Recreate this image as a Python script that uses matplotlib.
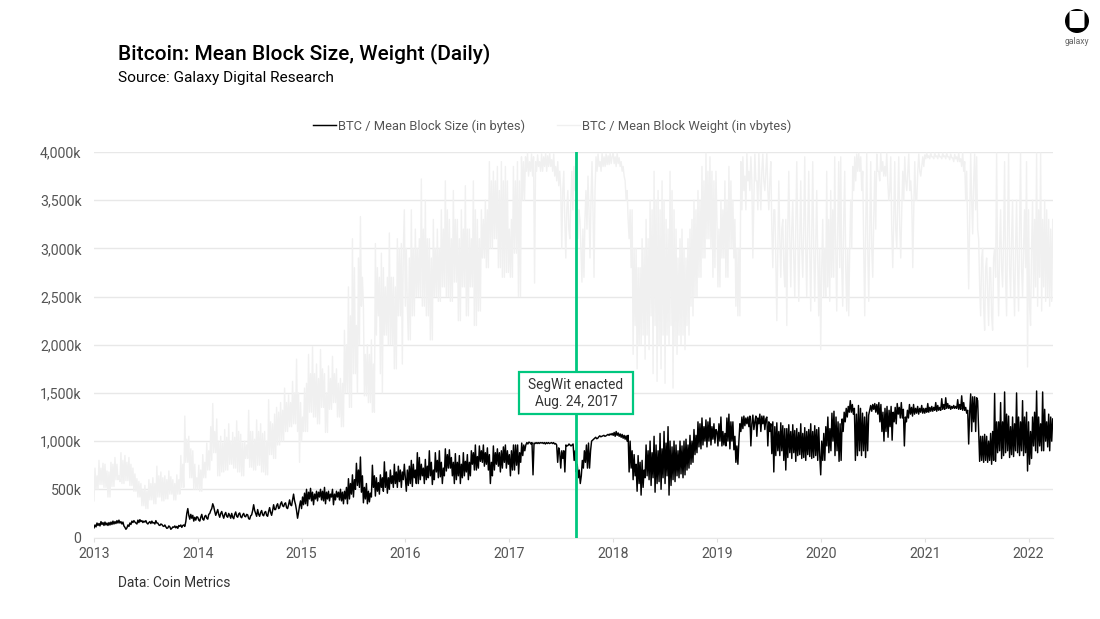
import numpy as np
import pandas as pd
import matplotlib
matplotlib.use('Agg')
import matplotlib.pyplot as plt
import matplotlib.dates as mdates
from matplotlib.patches import Circle, FancyBboxPatch, Rectangle
from matplotlib.ticker import FuncFormatter

plt.rcParams['font.family'] = ['Roboto', 'DejaVu Sans']

# Samples per year, in thousands
size_2013 = [100,130,110,150,125,145,120,165,135,155,125,160,130,150,125,155,130,160,135,170,140,165,145,175,150,180,150,165,140,160,120,105,85,100,130,115,150,135,170,155,175,160,150,140,180,155,185,165,175,155,170,160,175,150,140,155,165,145,170,150,155,140,175,150,150,130,125,140,135,120,115,130,110,95,100,120,110,85,95,110,105,120,100,115,95,125,115,130,105,125,130,115,165,250,300,230,190,240,200,230,170,210,180,215]
size_2014 = [210,180,170,210,240,190,180,220,230,200,190,240,250,280,300,350,320,270,230,260,290,240,210,250,270,230,200,240,260,220,210,250,230,200,250,210,195,240,265,220,210,245,255,215,205,235,250,220,215,240,235,195,190,225,235,280,340,280,250,220,290,240,220,260,280,235,225,260,270,230,220,270,310,260,230,280,340,290,290,330,350,300,310,350,370,330,320,350,360,310,300,340,390,340,330,390,450,380,340,280,200,260,330,380]
size_2015 = [300,420,340,460,350,500,330,470,400,510,380,470,340,450,400,480,380,470,420,500,390,480,380,520,350,470,400,480,380,450,420,500,340,450,390,480,420,470,390,500,380,470,350,480,400,520,350,610,400,560,450,650,420,600,500,770,540,700,520,835,470,640,360,520,400,560,350,480,370,460,420,750,520,640,430,620,480,570,450,650,520,620,480,785,520,680,460,620,500,700,560,640,520,760,560,680,520,740,580,700,520,680,600,760]
size_2016 = [620,480,700,540,740,560,800,530,760,620,700,560,880,560,830,600,760,640,720,560,810,600,740,620,900,640,780,550,700,600,880,680,800,620,900,630,780,560,720,640,920,690,860,720,910,720,830,640,780,560,870,600,780,640,850,560,760,620,880,640,790,680,860,600,780,640,900,760,880,700,960,700,840,720,950,790,900,780,960,740,880,760,930,700,860,560,780,640,950,700,880,760,920,740,880,680,900,720,940,780,960,720,900,760]
size_2017 = [860,640,900,700,960,700,960,750,960,660,880,780,980,850,960,900,960,985,970,990,985,970,985,650,980,975,985,975,985,975,985,980,985,975,985,970,985,975,985,975,980,985,975,985,970,975,960,780,930,880,720,900,820,900,680,960,950,955,970,960,950,960,970,800,900,680,760,620,700,560,640,800,720,900,780,960,720,980,720,900,1000,1010,1020,1030,1040,1025,1030,1045,1055,1045,1050,1055,1060,1050,1055,1062,1070,1060,1075,1065,1080]
size_2018 = [1060,1090,1050,1100,1060,1085,1050,1075,1040,1070,1030,1060,1020,1055,1000,1060,680,1000,720,900,600,860,640,760,480,850,560,780,440,800,520,700,620,960,640,900,600,1000,540,880,620,1050,470,960,560,900,580,1080,500,920,620,1100,560,980,640,1150,440,1000,540,940,600,1000,580,960,640,900,620,1000,660,950,620,1000,650,1020,700,960,720,1060,760,1000,780,1120,860,1060,880,1200,940,1180,920,1240,960,1150,1000,1220,940,1200,1000,1240,960,1150,1020,1180,980,1120]
size_2019 = [1100,950,1180,1000,1250,950,1100,960,1080,950,1240,1000,1280,920,1200,1000,1200,910,1050,780,950,760,1000,1180,1100,1250,1130,1260,1160,1240,1180,1250,1150,1260,950,1180,1270,1120,1200,1260,1050,1240,1180,1280,1100,1260,1180,1260,1120,1230,1250,950,1200,1100,1180,870,1200,680,1150,850,1190,900,1100,850,1190,900,1160,800,1130,700,1130,830,1170,880,1100,820,1170,880,1110,790,1130,850,1090,860,1180,820,1080,830,1140,800,1100,860,1120,840,1180,820,1100,830,1160,850,1120,800,1140,850]
size_2020 = [650,1000,800,1080,800,1150,950,1250,880,1130,900,1290,1000,1310,850,1250,900,1200,790,1180,800,1230,1100,1300,1200,1340,1250,1360,1300,1420,1300,1380,1280,1340,800,1280,850,1370,900,1340,850,1290,900,1250,830,1300,900,1270,1320,1370,1310,1380,1330,1390,1300,1380,1280,1400,1200,1380,1100,1300,1000,1340,1100,1360,1040,1320,1150,1360,1010,1300,1200,1350,1180,1390,1280,1350,1240,1400,1240,1330,950,1250,1200,1320,1240,1380,1280,1350,1260,1380,1280,1340,1290,1360,1280,1340,1300,1370,1290,1340]
size_2021 = [1290,1340,1300,1390,1300,1350,1310,1360,1310,1350,1320,1400,1310,1370,1320,1350,1320,1440,1330,1380,1330,1450,1340,1390,1340,1370,1330,1360,1340,1370,1340,1360,1340,1430,1330,1380,1330,1470,1320,1400,1320,1350,1290,1320,970,1300,1490,1100,1460,1200,1460,1100,1450,1420,1100,790,1050,800,1050,780,1070,800,1050,780,1000,800,1080,760,1100,800,1495,790,1200,880,1200,900,1400,820,1200,850,1510,880,1280,900,1260,830,1150,860,1250,840,1180,900,1500,880,1250,850,1200,900,1420,850,1250,880,1300,690]
size_2022 = [1200,760,1100,820,1250,950,1300,900,1520,880,1250,950,1180,900,1510,900,1330,1000,1200,940,1280,900,1250,1000,1230]

weight_2013 = [380,720,500,640,500,800,550,720,550,770,520,760,520,690,420,680,420,780,530,760,530,830,600,760,600,640,580,880,560,800,560,850,590,780,590,830,540,760,540,720,480,660,480,610,420,580,420,560,330,500,330,540,300,480,300,600,390,560,390,620,350,560,350,740,420,640,420,680,380,620,380,640,400,600,400,690,450,630,450,600,390,560,390,650,450,600,450,850,520,760,520,1260,780,1020,780,1050,620,920,620,900,500,760,500,620]
weight_2014 = [500,750,480,700,480,860,620,780,620,980,700,900,700,1150,800,1390,880,1100,880,1230,640,1000,640,1050,680,980,680,1120,700,1040,700,1180,760,1000,760,1090,720,1040,720,1210,680,1100,680,1070,640,980,640,1000,820,960,820,1320,730,1100,730,1100,700,1020,700,1220,750,1100,750,1180,680,1080,680,1100,650,1000,650,1430,860,1200,860,1180,820,1280,820,1350,960,1300,960,1400,1000,1320,1000,1550,1100,1400,1100,1480,1150,1400,1150,1620,1180,1500,1180,1850,1100,1500,780,1400]
weight_2015 = [1000,1250,1100,1550,1100,1600,1100,1900,1300,1700,1300,1980,1250,1700,1250,1800,1180,1650,1180,1950,1350,1750,1350,1700,1090,1500,1090,1780,1330,1650,1330,1880,1400,1700,1400,1750,1250,1600,1250,1650,1150,1600,1150,2150,1500,2000,1500,2600,1350,2300,1350,3100,1700,2800,1700,2200,1500,2900,2000,3330,2400,2700,2400,1470,1900,1470,2000,1400,1900,1400,2050,1300,1800,1300,3050,2100,2800,2300,2700,1700,2950,1500,2800,2100,2600,2100,2700,2000,3160,2000,2700,2000,2700,1750,2600,1750,3100,2300,3000,2300,3050,1800,3000,3400]
weight_2016 = [2400,3000,2400,2050,2900,2050,3400,2300,3000,2300,3200,2500,3000,2500,3100,2500,3720,2400,3200,2400,3500,2300,3100,2300,3100,2050,2900,2050,3300,2500,3000,2500,3200,2450,3000,2450,3400,2600,3200,2600,3700,2500,3400,2500,3300,2450,3100,2450,3600,2650,3300,2650,3300,2250,3100,2250,3400,2600,3200,2600,3650,2300,3200,2300,3200,2600,3100,2600,3700,2200,3400,2200,3300,2350,3100,2350,3400,2900,3300,2900,3500,2800,3400,2800,3900,3000,3700,3000,3800,3100,3700,3100,3850,2800,3600,2800,3900,2700,3700,2700,3850,2750,3700,2750]
weight_2017 = [3200,2700,3300,2700,3850,2950,3700,2950,3900,2500,3700,2500,3950,3500,3900,3500,3950,3800,3990,3750,3900,3800,3980,3750,3950,2640,3900,3800,3970,3850,3900,3800,3980,3800,3950,3850,3990,3800,3960,3850,3990,3850,3920,3800,3980,3750,3850,3700,3900,3650,3800,3600,3000,3600,3800,3300,2900,3400,3600,3200,3100,3500,3800,3400,3850,3600,3950,3500,3100,3400,3300,3000,2650,3200,2700,3300,3600,3200,3750,3400,2900,3500,3900,3400,2700,3600,3950,3800,3980,3850,3900,3800,3990,3850,3950,3850,3980,3870,3960,3870,3990,3880,3950]
weight_2018 = [3990,3880,3950,3850,3990,3880,3940,3850,3900,3800,3850,3750,3700,3500,3600,3300,3100,3400,2800,3400,1900,3000,2200,3000,1750,2800,2000,2800,2000,3100,2100,3000,1850,3300,2100,3100,1950,3500,2300,3400,1700,3800,2200,3500,1620,3600,2000,3400,1750,3700,2100,3500,1600,3300,2100,3200,2000,3800,2200,3600,1550,3400,2000,3200,1900,2900,2100,3100,2000,3200,2100,3000,1950,2900,2200,3100,2100,3200,2400,3300,2300,3500,2500,3400,2500,3600,2700,3500,2700,3850,2900,3700,2900,3990,3100,3800,3100,3950,3000,3800,2700,3700,2800,3800]
weight_2019 = [3300,2600,3200,2600,3500,2900,3400,2900,3700,2700,3500,2700,3850,3000,3700,3000,3500,2900,3300,2400,3000,2300,3000,2300,3900,3400,3950,3600,3750,3400,3990,3700,3800,3600,3950,3700,2900,3500,3980,3700,3700,3400,3990,3700,3400,3800,3980,3700,3600,3800,3990,3600,3400,3700,3900,3200,2800,3400,3400,2900,2250,3000,3700,3100,2700,3200,3300,2800,2600,3300,2200,3200,3800,3100,2600,3200,3500,2900,2500,3200,3900,3100,2450,3100,3700,3000,2700,3200,3950,3000,2500,3200,3800,3000,2350,3100,3900,3000,2450,3000,3600,2900,2300,3000]
weight_2020 = [1950,2800,3300,2500,3000,2500,3800,2600,3300,2450,3600,2700,3400,2700,3950,3000,2350,3200,3900,2800,3950,2800,2400,3300,3800,2800,2350,3000,2300,3000,3500,3000,3850,3600,3950,3700,3980,3800,3990,3800,3950,3600,3800,3000,2300,3200,3990,3000,2450,3200,3900,3000,2700,3300,3800,3200,3980,3800,3800,3700,3990,3800,3900,3750,3850,3750,3990,3700,3500,3600,3950,3200,2800,3300,3900,3200,3000,3500,3950,3200,2900,3400,3800,3500,3950,3700,3600,3800,3980,3600,3700,3500,2800,3400,3900,3500,3500,3800,3980,3800,3750,3850,3950,3850]
weight_2021 = [3970,3930,3990,3940,3960,3930,3990,3950,3950,3930,3990,3950,3960,3930,3985,3950,3950,3930,3990,3950,3960,3930,3990,3950,3950,3920,3980,3940,3940,3900,3975,3930,3950,3900,3990,3900,3930,3850,3995,3800,3900,3500,3800,3200,2580,3300,3990,3500,3150,3700,3980,3400,3950,3200,3100,2600,2300,2900,3000,2400,2150,2800,2900,2500,2200,2800,2800,2300,2150,2900,3000,2700,3990,2800,2300,3000,3400,2800,2600,3100,3900,2700,2300,3200,3990,2800,2500,3100,3500,2700,2300,3000,3500,2800,2350,3200,3990,2800,2500,3000,3400,2800,3900,1770]
weight_2022 = [3400,2400,2200,3000,3500,2500,3300,2600,3990,2400,3400,2700,3990,2350,3300,2600,3500,2450,3400,2500,3300,2400,3200,2450,3300]

years = [2013, 2014, 2015, 2016, 2017, 2018, 2019, 2020, 2021, 2022]
size_by_year = [size_2013, size_2014, size_2015, size_2016, size_2017, size_2018, size_2019, size_2020, size_2021, size_2022]
weight_by_year = [weight_2013, weight_2014, weight_2015, weight_2016, weight_2017, weight_2018, weight_2019, weight_2020, weight_2021, weight_2022]
segwit_date = pd.Timestamp('2017-08-24')
last_date = pd.Timestamp('2022-03-27')
y_ticks = [0, 500, 1000, 1500, 2000, 2500, 3000, 3500, 4000]


def build_dates(year, n):
    start = pd.Timestamp(year=year, month=1, day=1)
    if year == years[-1]:
        return pd.date_range(start, last_date, periods=n)
    end = pd.Timestamp(year=year + 1, month=1, day=1)
    return pd.date_range(start, end, periods=n + 1)[:-1]


size_dates = np.concatenate([build_dates(y, len(v)) for y, v in zip(years, size_by_year)])
weight_dates = np.concatenate([build_dates(y, len(v)) for y, v in zip(years, weight_by_year)])
size = np.concatenate(size_by_year)
weight = np.concatenate(weight_by_year)

fig = plt.figure(figsize=(11, 6.19), dpi=100)
ax = fig.add_axes([94 / 1100, 1 - 537.5 / 619, (1053 - 94) / 1100, (537.5 - 152) / 619])

ax.plot(weight_dates, weight, color='#f0f0f0', lw=1.0, label='BTC / Mean Block Weight (in vbytes)', zorder=2)
ax.plot(size_dates, size, color='black', lw=1.05, label='BTC / Mean Block Size (in bytes)', zorder=3)
ax.axvline(segwit_date, color='#00c77f', lw=2.0, zorder=4)

ax.set_xlim(pd.Timestamp('2013-01-01'), pd.Timestamp('2022-03-28'))
ax.set_ylim(0, 4000)
ax.set_yticks(y_ticks)
ax.yaxis.set_major_formatter(FuncFormatter(lambda v, _: '0' if v == 0 else f'{v:,.0f}k'))
ax.xaxis.set_major_locator(mdates.YearLocator())
ax.xaxis.set_major_formatter(mdates.DateFormatter('%Y'))
ax.grid(axis='y', color='#e8e8e8', lw=1.0, zorder=0)
ax.set_axisbelow(True)
for name in ['top', 'left', 'right']:
    ax.spines[name].set_visible(False)
ax.spines['bottom'].set_color('#e8e8e8')
ax.tick_params(axis='x', length=3, color='#e0e0e0', labelsize=10.2, labelcolor='#555555', pad=4)
ax.tick_params(axis='y', length=0, labelsize=10.2, labelcolor='#555555', pad=9)

handles, labels = ax.get_legend_handles_labels()
fig.legend(handles[::-1], labels[::-1], ncol=2, frameon=False, loc='center',
           bbox_to_anchor=(552 / 1100, 1 - 126 / 619), fontsize=9.3, labelcolor='#555555',
           handlelength=1.78, handletextpad=0.15, columnspacing=2.5)

fig.text(118 / 1100, 1 - 54 / 619, 'Bitcoin: Mean Block Size, Weight (Daily)', fontsize=15,
         weight='medium', color='black', va='center')
fig.text(118 / 1100, 1 - 78 / 619, 'Source: Galaxy Digital Research', fontsize=11.05,
         color='black', va='center')
fig.text(118 / 1100, 1 - 583 / 619, 'Data: Coin Metrics', fontsize=9.9, color='#333333', va='center')

# callout box and logo sit on an overlay laid out in pixel coordinates
overlay = fig.add_axes([0, 0, 1, 1], facecolor='none')
overlay.set_xlim(0, 1100)
overlay.set_ylim(619, 0)
overlay.axis('off')
overlay.add_patch(Rectangle((519, 372), 114, 42, fc='white', ec='#00c77f', lw=1.6))
overlay.text(576, 393.5, 'SegWit enacted\nAug. 24, 2017', ha='center', va='center',
             fontsize=9.8, color='#333333', linespacing=1.25)
overlay.add_patch(Circle((1077, 21), 12, fc='black', ec='none'))
overlay.add_patch(FancyBboxPatch((1069.5, 11), 15, 17, boxstyle='round,pad=0,rounding_size=1.5', fc='white', ec='none'))
overlay.text(1077, 42, 'galaxy', ha='center', va='center', fontsize=6.2, color='#666666')

fig.savefig('out.png', dpi=100)
